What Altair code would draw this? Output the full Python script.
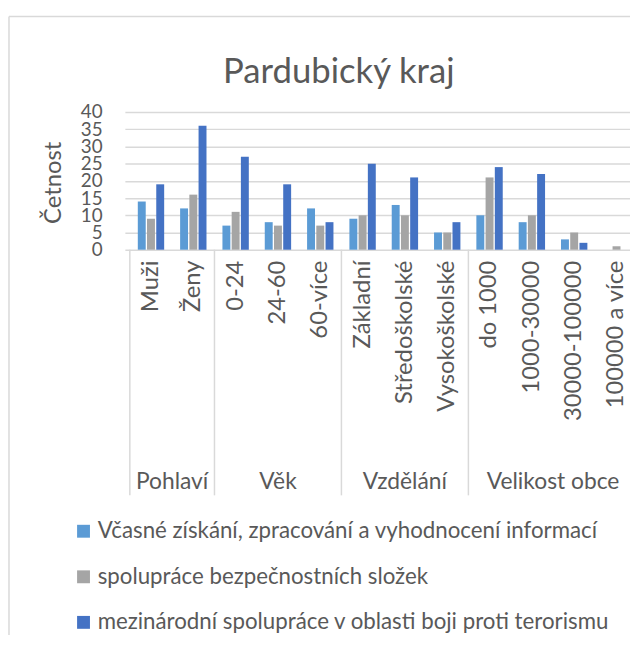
import altair as alt
import pandas as pd

chart_title = "Pardubický kraj"
y_title = "Četnost"
groups = ["Pohlaví", "Věk", "Vzdělání", "Velikost obce"]
group_sizes = [2, 3, 3, 4]
categories = ["Muži", "Ženy", "0-24", "24-60", "60-více", "Základní",
              "Středoškolské", "Vysokoškolské", "do 1000", "1000-30000",
              "30000-100000", "100000 a více"]
series = ["Včasné získání, zpracování a vyhodnocení informací",
          "spolupráce bezpečnostních složek",
          "mezinárodní spolupráce v oblasti boji proti terorismu"]
s1 = [14, 12, 7, 8, 12, 9, 13, 5, 10, 8, 3, 0]
s2 = [9, 16, 11, 7, 7, 10, 10, 5, 21, 10, 5, 1]
s3 = [19, 36, 27, 19, 8, 25, 21, 8, 24, 22, 2, 0]
y_ticks = list(range(0, 41, 5))
colors = ["#5B9BD5", "#A5A5A5", "#4472C4"]

FONT = "Lato"
TXT = "#595959"
LINE = "#d9d9d9"

# layout (pixels)
W = 510          # visible plot width (right part of the chart is cropped)
FULL_W = 523     # width the 12 categories would take
H = 139
PAD = {"left": 118, "top": 102, "right": 0, "bottom": 389}
n = len(categories)
band_px = FULL_W / n
bar_step = 9.5 / band_px

rows = []
for s_i, (name, vals) in enumerate(zip(series, [s1, s2, s3])):
    for c_i, (cat, v) in enumerate(zip(categories, vals)):
        rows.append({"series": name, "category": cat, "value": v,
                     "pos": c_i + (s_i - 1) * bar_step})
bars_df = pd.DataFrame(rows)

cat_df = pd.DataFrame({"category": categories, "idx": list(range(n))})

g_rows = []
start = 0
bounds = [-0.5]
for g, sz in zip(groups, group_sizes):
    g_rows.append({"group": g, "center": start + (sz - 1) / 2})
    start += sz
    bounds.append(start - 0.5)
grp_df = pd.DataFrame(g_rows)
sep_df = pd.DataFrame({"b": bounds})
one_df = pd.DataFrame({"t": [chart_title]})

xscale = alt.Scale(domain=[-0.5, -0.5 + W / band_px], nice=False, zero=False)

bars = alt.Chart(bars_df).mark_bar(size=8).encode(
    x=alt.X("pos:Q", scale=xscale, axis=None),
    y=alt.Y("value:Q", scale=alt.Scale(domain=[0, 40], nice=False), stack=None,
            axis=alt.Axis(values=y_ticks, grid=True, gridColor=LINE, gridWidth=1.5,
                          domain=False, ticks=False, labelFontSize=19, labelFont=FONT,
                          labelColor=TXT, labelPadding=23, labelOverlap=False,
                          title=y_title, titleFont=FONT, titleFontSize=24,
                          titleFontWeight="normal", titleColor=TXT, titleAngle=270,
                          titleX=-65, titleY=71, titleAlign="center",
                          titleBaseline="alphabetic")),
    color=alt.Color("series:N",
                    scale=alt.Scale(domain=series, range=colors),
                    legend=alt.Legend(orient="none", legendX=-53, legendY=412,
                                      direction="vertical", title=None,
                                      symbolType="square", symbolSize=169,
                                      labelFontSize=22.5,
                                      labelFont=FONT, labelColor=TXT, labelLimit=700,
                                      rowPadding=23, labelOffset=3, padding=0)),
)

cat_labels = alt.Chart(cat_df).mark_text(
    angle=270, align="right", baseline="middle", font=FONT, fontSize=24, color=TXT
).encode(x=alt.X("idx:Q", scale=xscale, axis=None), y=alt.value(150), text="category:N")

grp_labels = alt.Chart(grp_df).mark_text(
    align="center", baseline="alphabetic", font=FONT, fontSize=23, color=TXT
).encode(x=alt.X("center:Q", scale=xscale, axis=None), y=alt.value(381), text="group:N")

seps = alt.Chart(sep_df).mark_rule(color=LINE, strokeWidth=1.5).encode(
    x=alt.X("b:Q", scale=xscale, axis=None), y=alt.value(H), y2=alt.value(H + 248))

title_mark = alt.Chart(one_df).mark_text(
    align="center", baseline="alphabetic", font=FONT, fontSize=35, color=TXT
).encode(x=alt.value(342 - 126), y=alt.value(81 - 110), text="t:N")

frame_left = alt.Chart(one_df).mark_rule(color=LINE, strokeWidth=1.5).encode(
    x=alt.value(-117), y=alt.value(-96.5), y2=alt.value(H + PAD["bottom"]))
frame_top = alt.Chart(one_df).mark_rule(color=LINE, strokeWidth=1.5).encode(
    x=alt.value(-117), x2=alt.value(W), y=alt.value(-96.5))

chart = alt.layer(frame_left, frame_top, seps, bars, cat_labels, grp_labels, title_mark).properties(
    width=W, height=H,
    autosize=alt.AutoSizeParams(type="none"),
    padding=PAD,
    background="white",
).configure_view(stroke=None)

chart.save("out.html", embed_options={"renderer": "svg", "actions": False})
